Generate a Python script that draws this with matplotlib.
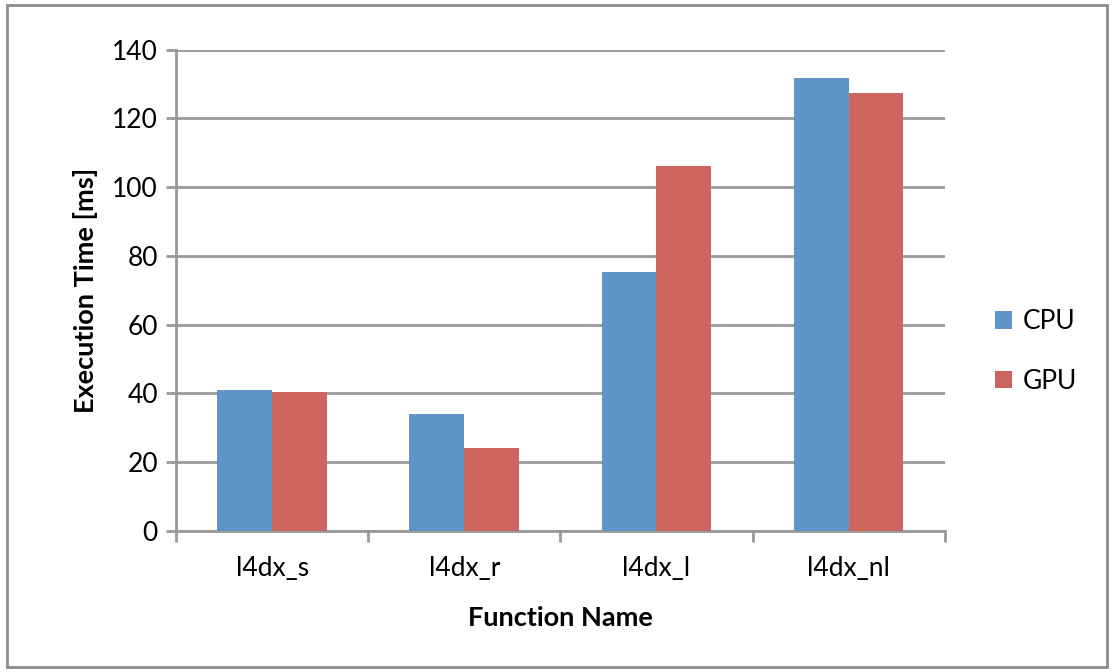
import numpy as np
import matplotlib.pyplot as plt
from matplotlib.patches import Rectangle

plt.rcParams['font.family'] = ['Lato', 'DejaVu Sans']

functions = ['l4dx_s', 'l4dx_r', 'l4dx_l', 'l4dx_nl']
cpu_ms = [41.1, 33.9, 75.4, 131.8]
gpu_ms = [40.3, 24.0, 106.3, 127.3]
y_ticks = [0, 20, 40, 60, 80, 100, 120, 140]

CPU_COLOR = '#5f95c9'
GPU_COLOR = '#cc655e'
GRID_COLOR = '#999999'

fig = plt.figure(figsize=(11.14, 6.72), dpi=100)
ax = fig.add_axes([0.158, 0.210, 0.690, 0.716])

x = np.arange(len(functions))
w = 0.285
ax.bar(x - w / 2, cpu_ms, w, color=CPU_COLOR, label='CPU', zorder=3)
ax.bar(x + w / 2, gpu_ms, w, color=GPU_COLOR, label='GPU', zorder=3)

ax.set_xlim(-0.5, len(functions) - 0.5)
ax.set_ylim(0, 140)
ax.set_yticks(y_ticks)
ax.tick_params(axis='y', labelsize=19, length=7, width=2, color=GRID_COLOR, pad=6)

# category labels in between the tick marks, ticks at group boundaries
ax.set_xticks(np.arange(len(functions) + 1) - 0.5)
ax.set_xticklabels([])
ax.set_xticks(x, minor=True)
ax.set_xticklabels(functions, minor=True, fontsize=19)
ax.tick_params(axis='x', which='major', length=8, width=2, color=GRID_COLOR)
ax.tick_params(axis='x', which='minor', length=0, pad=18)

ax.yaxis.grid(True, color=GRID_COLOR, linewidth=2, zorder=0)
for s in ['top', 'right']:
    ax.spines[s].set_visible(False)
for s in ['left', 'bottom']:
    ax.spines[s].set_color(GRID_COLOR)
    ax.spines[s].set_linewidth(2)

ax.set_ylabel('Execution Time [ms]', fontsize=19.5, fontweight='bold', labelpad=10)
ax.set_xlabel('Function Name', fontsize=19.5, fontweight='bold', labelpad=18)

fig.legend(loc='center left', bbox_to_anchor=(0.893, 0.477), frameon=False,
           fontsize=19, handlelength=0.65, handleheight=0.65, labelspacing=1.3,
           handletextpad=0.4, borderaxespad=0, borderpad=0)

fig.patches.append(Rectangle((0.006, 0.008), 0.988, 0.984, transform=fig.transFigure,
                             fill=False, edgecolor='#8c8c8c', linewidth=2))

fig.savefig('out.png', dpi=100)
